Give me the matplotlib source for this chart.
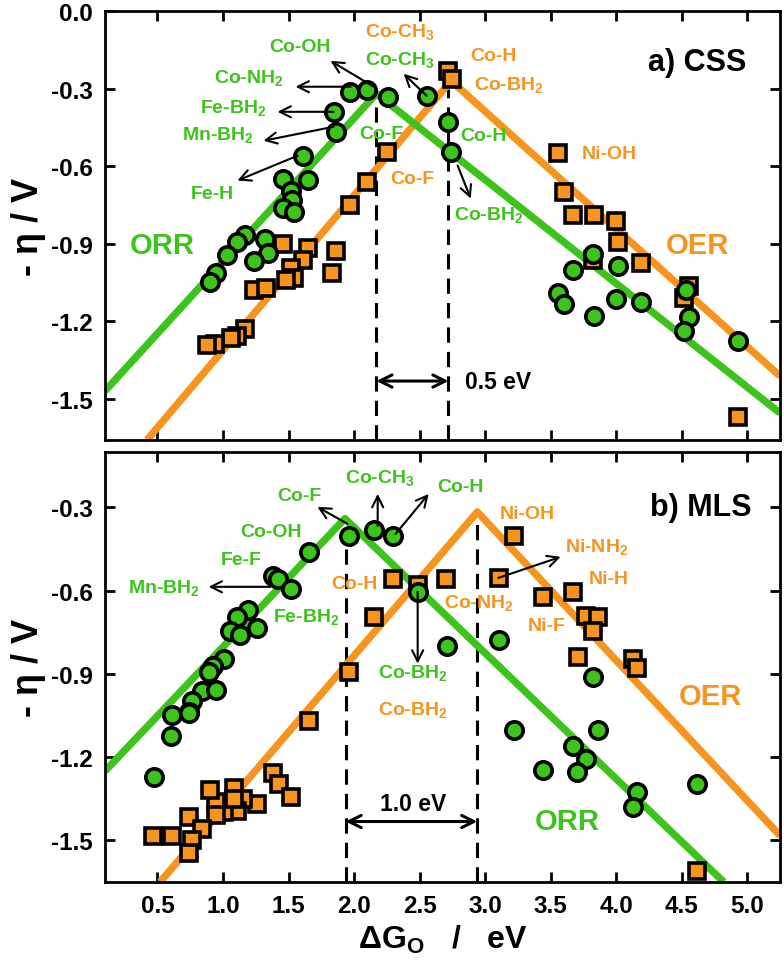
import matplotlib
matplotlib.use('Agg')
import matplotlib.pyplot as plt

plt.rcParams['font.family'] = ['Liberation Sans', 'DejaVu Sans']
plt.rcParams['font.weight'] = 'bold'
plt.rcParams['mathtext.fontset'] = 'custom'
plt.rcParams['mathtext.rm'] = 'Liberation Sans:bold'
plt.rcParams['mathtext.it'] = 'Liberation Sans:bold'
plt.rcParams['mathtext.bf'] = 'Liberation Sans:bold'
plt.rcParams['mathtext.sf'] = 'Liberation Sans:bold'

GREEN = '#3cc31c'
ORANGE = '#f7941d'

# ---------------- panel a) CSS ----------------
css_orr_x = [1.966, 2.10, 2.256, 1.845, 1.86, 1.607, 1.46, 1.645, 1.52, 1.53, 1.46, 1.54,
             1.17, 1.11, 1.32, 1.34, 1.03, 1.24, 0.95, 0.897, 2.553, 2.714, 2.737,
             3.82, 3.668, 4.01, 3.553, 3.6, 3.83, 4.0, 4.187, 4.53, 4.553, 4.515, 4.93]
css_orr_y = [-0.313, -0.305, -0.332, -0.39, -0.467, -0.56, -0.649, -0.652, -0.695, -0.733, -0.761, -0.776,
             -0.865, -0.892, -0.884, -0.938, -0.946, -0.969, -1.012, -1.05, -0.328, -0.428, -0.545,
             -0.942, -1.004, -0.988, -1.093, -1.135, -1.181, -1.116, -1.127, -1.081, -1.185, -1.239, -1.278]
css_oer_x = [1.46, 1.645, 1.86, 1.835, 1.607, 1.515, 1.538, 1.477, 1.233, 1.33, 1.17, 1.11, 1.06,
             0.94, 0.88, 2.248, 2.10, 1.966, 2.714, 2.744, 3.553, 3.6, 3.668, 3.83, 3.996, 4.01,
             4.187, 3.82, 4.553, 4.515, 4.93]
css_oer_y = [-0.903, -0.919, -0.93, -1.015, -0.965, -0.996, -1.035, -1.042, -1.081, -1.073, -1.232, -1.259, -1.266,
             -1.29, -1.293, -0.544, -0.66, -0.752, -0.232, -0.263, -0.548, -0.699, -0.79, -0.788, -0.813, -0.893,
             -0.977, -0.965, -1.066, -1.112, -1.571]
css_orr_line_x = [0.1, 2.17, 5.25]
css_orr_line_y = [-1.47, -0.32, -1.556]
css_oer_line_x = [0.42, 2.74, 5.25]
css_oer_line_y = [-1.66, -0.27, -1.413]

# ---------------- panel b) MLS ----------------
mls_orr_x = [1.958, 2.149, 2.30, 1.653, 1.378, 1.416, 1.515, 1.187, 1.11, 1.263, 1.057, 1.126,
             1.011, 0.927, 0.89, 0.843, 0.943, 0.767, 0.737, 0.614, 0.744, 0.60, 0.47,
             2.485, 2.706, 3.103, 3.82, 3.218, 3.86, 3.668, 3.767, 3.70, 3.44, 4.157, 4.126, 4.615]
mls_orr_y = [-0.402, -0.381, -0.402, -0.46, -0.546, -0.557, -0.593, -0.669, -0.694, -0.734, -0.745, -0.759,
             -0.845, -0.871, -0.892, -0.961, -0.957, -0.997, -1.036, -1.047, -1.04, -1.123, -1.27,
             -0.604, -0.799, -0.777, -0.91, -1.101, -1.101, -1.159, -1.205, -1.252, -1.245, -1.324, -1.378, -1.296]
mls_oer_x = [2.149, 1.958, 1.653, 2.30, 1.378, 1.424, 1.515, 1.263, 1.08, 1.156, 1.11, 1.004, 0.943,
             0.897, 0.943, 1.08, 0.737, 0.843, 0.767, 0.737, 0.462, 0.614, 2.485, 2.70, 3.103, 3.218,
             3.44, 3.668, 3.767, 3.86, 3.82, 3.706, 4.126, 4.157, 4.615]
mls_oer_y = [-0.694, -0.892, -1.07, -0.557, -1.256, -1.296, -1.342, -1.368, -1.31, -1.35, -1.393, -1.396, -1.36,
             -1.32, -1.41, -1.35, -1.414, -1.458, -1.50, -1.544, -1.486, -1.486, -0.579, -0.557, -0.554, -0.403,
             -0.622, -0.604, -0.69, -0.694, -0.744, -0.838, -0.845, -0.878, -1.609]
mls_orr_line_x = [0.1, 1.93, 4.82]
mls_orr_line_y = [-1.25, -0.34, -1.65]
mls_oer_line_x = [0.52, 2.94, 5.25]
mls_oer_line_y = [-1.65, -0.316, -1.483]

x_ticks = [0.5, 1.0, 1.5, 2.0, 2.5, 3.0, 3.5, 4.0, 4.5, 5.0]
y_ticks_a = [0.0, -0.3, -0.6, -0.9, -1.2, -1.5]
y_ticks_b = [-0.3, -0.6, -0.9, -1.2, -1.5]

fig = plt.figure(figsize=(7.84, 9.70), dpi=100)
ax1 = fig.add_axes([0.134, 0.5454, 0.861, 0.4422])
ax2 = fig.add_axes([0.134, 0.0897, 0.861, 0.4433])

LW = 5.3
MS_C = 12.5
MS_S = 11.5
MEW = 2.6


def style(ax, yticks, ylim, show_xlabels):
    ax.set_xlim(0.1, 5.25)
    ax.set_ylim(*ylim)
    ax.set_xticks(x_ticks)
    ax.set_yticks(yticks)
    ax.set_yticklabels([f'{t:.1f}' for t in yticks])
    ax.tick_params(direction='in', length=7, width=2, top=True, right=True,
                   labelsize=17.5, pad=9)
    for s in ax.spines.values():
        s.set_linewidth(2)
    if show_xlabels:
        ax.set_xticklabels([f'{t:.1f}' for t in x_ticks])
    else:
        ax.set_xticklabels([])
    ax.set_ylabel('- η / V', fontsize=26, fontweight='bold')
    ax.yaxis.set_label_coords(-0.088, 0.5)


def arrow(ax, tail, head, lw=1.5):
    ax.annotate('', xy=head, xytext=tail,
                arrowprops=dict(arrowstyle='->', lw=lw, color='black',
                                mutation_scale=20, shrinkA=0, shrinkB=0), zorder=6)


def label(ax, x, y, s, color, size=14):
    ax.text(x, y, s, color=color, fontsize=size, fontweight='bold',
            ha='center', va='center', zorder=7)


# ---------- panel a ----------
ax = ax1
ax.plot(css_oer_line_x, css_oer_line_y, color=ORANGE, lw=LW, zorder=2, solid_capstyle='butt')
ax.plot(css_orr_line_x, css_orr_line_y, color=GREEN, lw=LW, zorder=2, solid_capstyle='butt')
ax.plot([css_orr_line_x[1]] * 2, [-1.66, css_orr_line_y[1]], color='black', lw=2.2,
        ls=(0, (5, 3)), zorder=1)
ax.plot([css_oer_line_x[1] - 0.02] * 2, [-1.66, -0.30], color='black', lw=2.2,
        ls=(0, (5, 3)), zorder=1)
ax.plot(css_oer_x, css_oer_y, 's', ms=MS_S, mfc=ORANGE, mec='black', mew=MEW, zorder=4)
ax.plot(css_orr_x, css_orr_y, 'o', ms=MS_C, mfc=GREEN, mec='black', mew=MEW, zorder=5)
style(ax, y_ticks_a, (-1.66, 0.0), False)

ax.annotate('', xy=(2.72, -1.432), xytext=(2.17, -1.432),
            arrowprops=dict(arrowstyle='<->', lw=2.2, color='black', mutation_scale=22,
                            shrinkA=0, shrinkB=0))
ax.text(3.10, -1.432, '0.5 eV', fontsize=16.5, fontweight='bold', ha='center', va='center')
ax.text(4.62, -0.197, 'a) CSS', fontsize=22, fontweight='bold', ha='center', va='center')
label(ax, 0.54, -0.907, 'ORR', GREEN, 21)
label(ax, 4.62, -0.907, 'OER', ORANGE, 21)

label(ax, 1.59, -0.139, 'Co-OH', GREEN)
arrow(ax, (2.15, -0.293), (1.82, -0.193))
label(ax, 1.195, -0.255, 'Co-NH$_2$', GREEN)
arrow(ax, (1.973, -0.293), (1.553, -0.293))
label(ax, 1.08, -0.371, 'Fe-BH$_2$', GREEN)
arrow(ax, (1.843, -0.39), (1.416, -0.39))
label(ax, 0.958, -0.475, 'Mn-BH$_2$', GREEN)
arrow(ax, (1.843, -0.448), (1.309, -0.502))
label(ax, 0.92, -0.707, 'Fe-H', GREEN)
arrow(ax, (1.569, -0.56), (1.11, -0.656))
label(ax, 2.35, -0.077, 'Co-CH$_3$', ORANGE)
label(ax, 2.35, -0.185, 'Co-CH$_3$', GREEN)
arrow(ax, (2.553, -0.328), (2.378, -0.243))
label(ax, 2.21, -0.475, 'Co-F', GREEN)
label(ax, 2.446, -0.649, 'Co-F', ORANGE)
label(ax, 3.06, -0.174, 'Co-H', ORANGE)
label(ax, 3.18, -0.282, 'Co-BH$_2$', ORANGE)
label(ax, 2.99, -0.483, 'Co-H', GREEN)
label(ax, 3.03, -0.784, 'Co-BH$_2$', GREEN)
arrow(ax, (2.79, -0.598), (2.89, -0.726))
label(ax, 3.95, -0.552, 'Ni-OH', ORANGE)

# ---------- panel b ----------
ax = ax2
ax.plot(mls_oer_line_x, mls_oer_line_y, color=ORANGE, lw=LW, zorder=2, solid_capstyle='butt')
ax.plot(mls_orr_line_x, mls_orr_line_y, color=GREEN, lw=LW, zorder=2, solid_capstyle='butt')
ax.plot([1.935] * 2, [-1.65, -0.40], color='black', lw=2.2, ls=(0, (5, 3)), zorder=1)
ax.plot([mls_oer_line_x[1]] * 2, [-1.65, mls_oer_line_y[1]], color='black', lw=2.2,
        ls=(0, (5, 3)), zorder=1)
ax.plot(mls_oer_x, mls_oer_y, 's', ms=MS_S, mfc=ORANGE, mec='black', mew=MEW, zorder=4)
ax.plot(mls_orr_x, mls_orr_y, 'o', ms=MS_C, mfc=GREEN, mec='black', mew=MEW, zorder=5)
style(ax, y_ticks_b, (-1.65, -0.1), True)
ax.set_xlabel('ΔG$_\\mathrm{O}$   /   eV', fontsize=23, fontweight='bold', labelpad=4)

ax.annotate('', xy=(2.94, -1.432), xytext=(1.935, -1.432),
            arrowprops=dict(arrowstyle='<->', lw=2.2, color='black', mutation_scale=22,
                            shrinkA=0, shrinkB=0))
ax.text(2.447, -1.368, '1.0 eV', fontsize=16.5, fontweight='bold', ha='center', va='center')
ax.text(4.645, -0.298, 'b) MLS', fontsize=22, fontweight='bold', ha='center', va='center')
label(ax, 3.63, -1.429, 'ORR', GREEN, 21)
label(ax, 4.72, -0.979, 'OER', ORANGE, 21)

label(ax, 1.584, -0.258, 'Co-F', GREEN)
arrow(ax, (1.95, -0.359), (1.72, -0.298))
label(ax, 2.20, -0.19, 'Co-CH$_3$', GREEN)
arrow(ax, (2.18, -0.366), (2.18, -0.251))
label(ax, 2.81, -0.226, 'Co-H', GREEN)
arrow(ax, (2.317, -0.395), (2.569, -0.251))
label(ax, 1.363, -0.388, 'Co-OH', GREEN)
label(ax, 1.141, -0.489, 'Fe-F', GREEN)
label(ax, 0.546, -0.586, 'Mn-BH$_2$', GREEN)
arrow(ax, (1.363, -0.586), (0.89, -0.586))
label(ax, 1.637, -0.69, 'Fe-BH$_2$', GREEN)
label(ax, 2.004, -0.575, 'Co-H', ORANGE)
label(ax, 3.32, -0.323, 'Ni-OH', ORANGE)
label(ax, 3.85, -0.438, 'Ni-NH$_2$', ORANGE)
arrow(ax, (3.10, -0.554), (3.576, -0.478))
label(ax, 3.94, -0.557, 'Ni-H', ORANGE)
label(ax, 3.47, -0.727, 'Ni-F', ORANGE)
label(ax, 2.95, -0.64, 'Co-NH$_2$', ORANGE)
label(ax, 2.447, -0.892, 'Co-BH$_2$', GREEN)
label(ax, 2.447, -1.025, 'Co-BH$_2$', ORANGE)
arrow(ax, (2.485, -0.604), (2.485, -0.863))

fig.savefig('out.png', dpi=100)
